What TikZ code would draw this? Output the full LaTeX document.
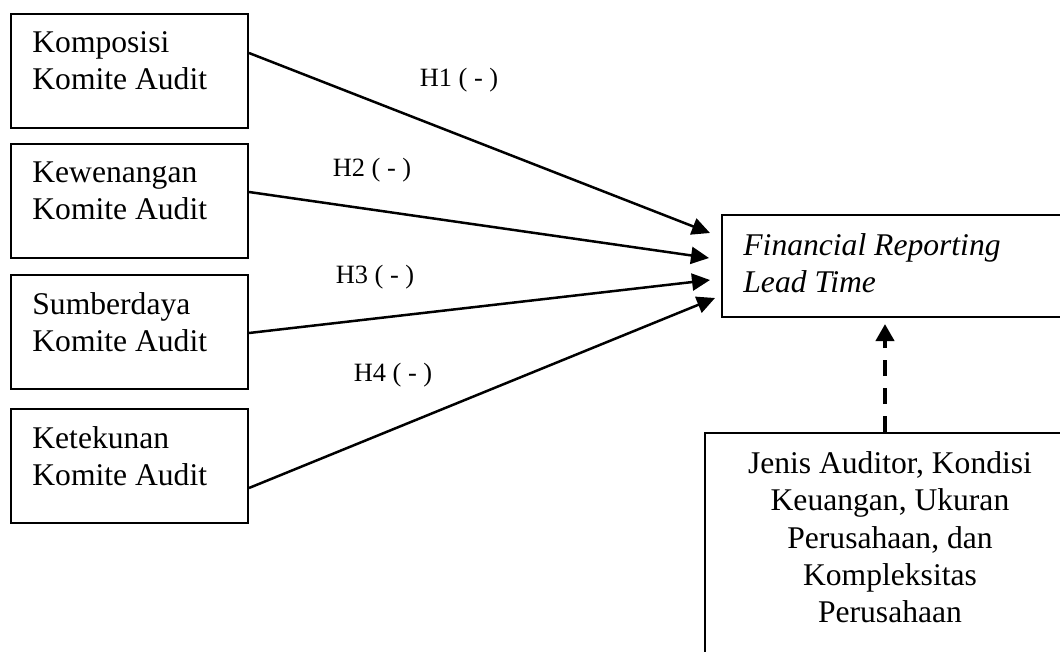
\documentclass[tikz,border=0pt]{standalone}
\usepackage{fontspec}
\setmainfont{Liberation Serif}
\usetikzlibrary{arrows.meta}
\begin{document}
\begin{tikzpicture}[x=0.5pt,y=-0.5pt,
  box/.style={draw,line width=1pt,rectangle,inner sep=0pt,anchor=north west,minimum width=118.5pt,minimum height=57pt},
  boxtext/.style={anchor=north west,inner sep=0pt,align=left,font=\fontsize{15.8}{18.6}\selectfont},
  hyp/.style={inner sep=0pt,font=\fontsize{13.2}{15}\selectfont},
  arr/.style={line width=1.25pt,-{Triangle[length=9pt,width=8.5pt]}},
  dasharr/.style={line width=2pt,dash pattern=on 8pt off 6pt,-{Triangle[length=8.5pt,width=9pt]}}]
\clip (0,0) rectangle (1060,652);
% left boxes
\node[box] (k1) at (10,13) {};
\node[box] (k2) at (10,143) {};
\node[box] (k3) at (10,274) {};
\node[box] (k4) at (10,408) {};
\node[boxtext] (k1t) at ([xshift=11pt,yshift=-9.2pt]k1.north west) {Komposisi\\Komite Audit};
\node[boxtext] (k2t) at ([xshift=11pt,yshift=-9.2pt]k2.north west) {Kewenangan\\Komite Audit};
\node[boxtext] (k3t) at ([xshift=11pt,yshift=-9.2pt]k3.north west) {Sumberdaya\\Komite Audit};
\node[boxtext] (k4t) at ([xshift=11pt,yshift=-9.2pt]k4.north west) {Ketekunan\\Komite Audit};
% target box
\node[box,minimum width=177pt,minimum height=51pt] (frlt) at (721,214) {};
\node[boxtext,font=\fontsize{15.8}{18.6}\selectfont\itshape] (frltt) at ([xshift=11pt,yshift=-9.7pt]frlt.north west) {Financial Reporting\\Lead Time};
% control box
\node[box,minimum width=185pt,minimum height=140pt] (ctrl) at (704,432) {};
\node[boxtext,anchor=north,align=center] (ctrlt) at ([yshift=-9.7pt]ctrl.north) {Jenis Auditor, Kondisi\\Keuangan, Ukuran\\Perusahaan, dan\\Kompleksitas\\Perusahaan};
% arrows
\draw[arr] ([yshift=9pt]k1.east) -- ([xshift=-5.5pt,yshift=16.5pt]frlt.west);
\draw[arr] ([yshift=4.5pt]k2.east) -- ([xshift=-6pt,yshift=4pt]frlt.west);
\draw[arr] ([yshift=-0.5pt]k3.east) -- ([xshift=-5.5pt,yshift=-7pt]frlt.west);
\draw[arr] ([yshift=-11pt]k4.east) -- ([xshift=-3pt,yshift=-16pt]frlt.west);
% labels
\node[hyp] (h1) at (459,80) {H1 ( - )};
\node[hyp] (h2) at (372,170) {H2 ( - )};
\node[hyp] (h3) at (375,277) {H3 ( - )};
\node[hyp] (h4) at (393,375) {H4 ( - )};
% dashed arrow
\coordinate (dx) at (885,0);
\draw[dasharr,shorten >=3pt] (ctrl.north -| dx) -- (frlt.south -| dx);
\end{tikzpicture}
\end{document}
